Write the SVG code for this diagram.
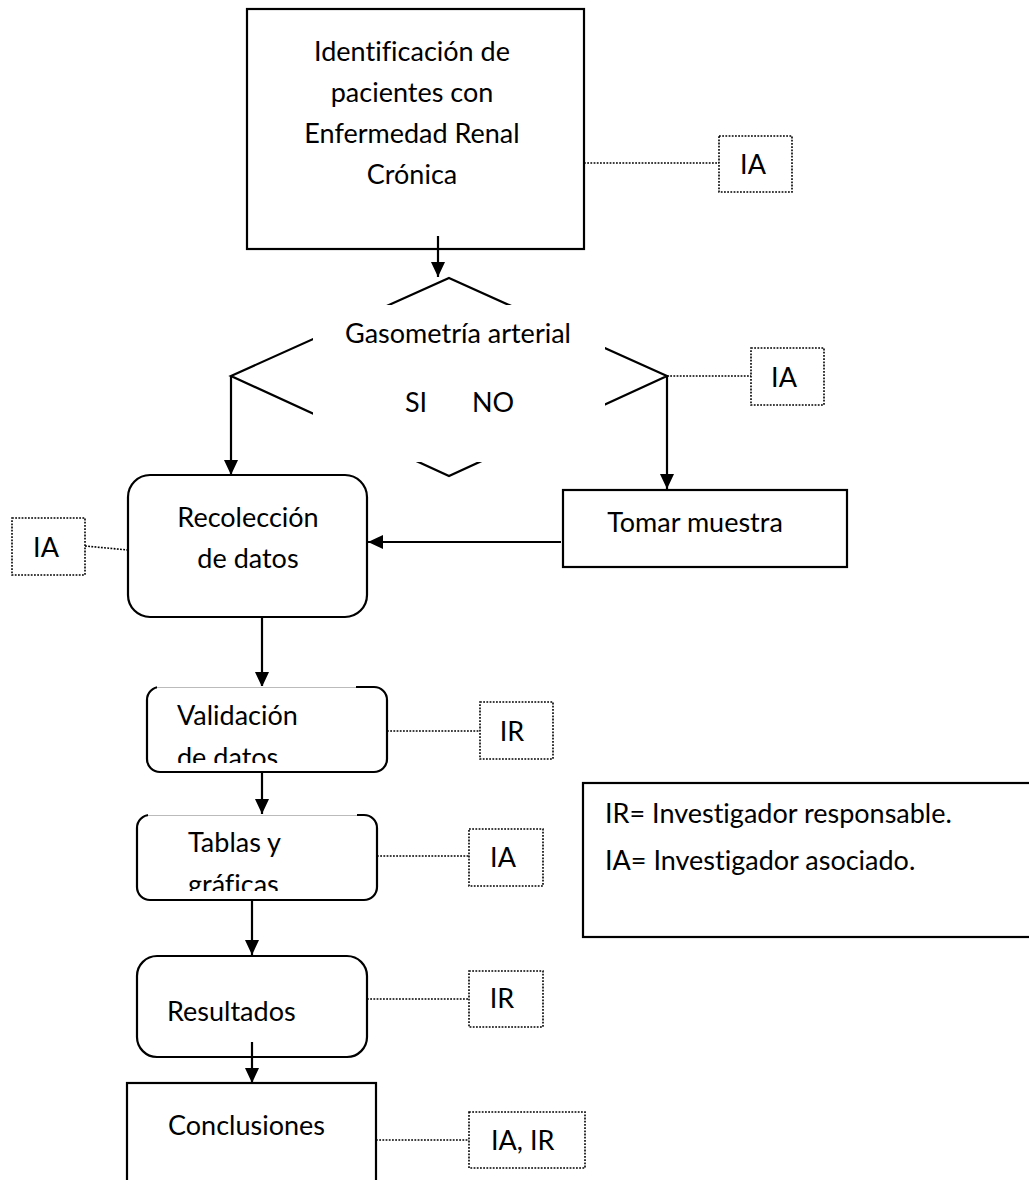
<svg xmlns="http://www.w3.org/2000/svg" width="1029" height="1180" viewBox="0 0 1029 1180">
<style>
  text { font-family: Lato, "Liberation Sans", sans-serif; font-size: 27px; fill: #000; font-variant-ligatures: none; }
  .box { fill: #fff; stroke: #000; stroke-width: 2.2; }
  .dot { fill: #fff; stroke: #000; stroke-width: 1.6; stroke-dasharray: 1.8 1.4; }
  .dl { fill: none; stroke: #000; stroke-width: 1.6; stroke-dasharray: 1.8 1.4; }
  .ln { fill: none; stroke: #000; stroke-width: 2.2; }
  .arr { fill: none; stroke: #000; stroke-width: 2.2; marker-end: url(#ah); }
  .mid { text-anchor: middle; }
</style>
<defs>
  <marker id="ah" viewBox="0 0 15 14" refX="15" refY="7" markerWidth="15" markerHeight="14" markerUnits="userSpaceOnUse" orient="auto">
    <path d="M0,0 L15,7 L0,14 Z" fill="#000"/>
  </marker>
  <clipPath id="cv"><rect x="157" y="688" width="199" height="75"/></clipPath>
  <clipPath id="ct"><rect x="148" y="816" width="209" height="75"/></clipPath>
</defs>
<rect width="1029" height="1180" fill="#fff"/>

<g id="connectors">
  <line class="arr" x1="438" y1="236" x2="438" y2="277"/>
  <line class="arr" x1="231" y1="376" x2="231" y2="475"/>
  <line class="arr" x1="667" y1="376" x2="667" y2="489"/>
  <line class="arr" x1="561" y1="542" x2="368" y2="542"/>
  <line class="arr" x1="262" y1="617" x2="262" y2="687"/>
  <line class="arr" x1="262" y1="772" x2="262" y2="814"/>
  <line class="arr" x1="252" y1="900" x2="252" y2="955"/>
  <line class="arr" x1="252" y1="1042" x2="252" y2="1083"/>
  <line class="dl" x1="584" y1="163" x2="719" y2="163"/>
  <line class="dl" x1="667" y1="376" x2="751" y2="376"/>
  <line class="dl" x1="85" y1="546" x2="128" y2="550"/>
  <line class="dl" x1="387" y1="731" x2="480" y2="731"/>
  <line class="dl" x1="377" y1="856" x2="469" y2="856"/>
  <line class="dl" x1="367" y1="999" x2="469" y2="999"/>
  <line class="dl" x1="376" y1="1140" x2="469" y2="1140"/>
</g>

<g id="identificacion">
  <rect class="box" x="247" y="9" width="337" height="240"/>
  <line class="ln" x1="438" y1="236" x2="438" y2="249"/>
  <text class="mid" x="412" y="61">Identificación de</text>
  <text class="mid" x="412" y="102">pacientes con</text>
  <text class="mid" x="412" y="143">Enfermedad Renal</text>
  <text class="mid" x="412" y="184">Crónica</text>
</g>
<g id="ia1">
  <rect class="dot" x="719" y="136" width="73" height="56"/>
  <text class="mid" x="753" y="174">IA</text>
</g>

<g id="gasometria">
  <polygon points="449,278 667,376 449,476 231,376" fill="#fff" stroke="#000" stroke-width="2.2"/>
  <rect x="313" y="305" width="292" height="157" fill="#fff"/>
  <text class="mid" x="458" y="343">Gasometría arterial</text>
  <text class="mid" x="416" y="412">SI</text>
  <text class="mid" x="493" y="412">NO</text>
</g>
<g id="ia2">
  <rect class="dot" x="751" y="348" width="73" height="57"/>
  <text class="mid" x="784" y="387">IA</text>
</g>

<g id="recoleccion">
  <rect class="box" x="128" y="475" width="239" height="142" rx="22" ry="22"/>
  <text class="mid" x="248" y="527">Recolección</text>
  <text class="mid" x="248" y="568">de datos</text>
</g>
<g id="ia3">
  <rect class="dot" x="12" y="518" width="73" height="57"/>
  <text class="mid" x="46" y="557">IA</text>
</g>

<g id="tomar">
  <rect class="box" x="563" y="490" width="284" height="77"/>
  <text class="mid" x="695" y="532">Tomar muestra</text>
</g>

<g id="validacion">
  <rect class="box" x="147" y="687" width="240" height="85" rx="13" ry="13"/>
  <rect x="157" y="686" width="199" height="77" fill="#fff"/>
  <line x1="157" y1="687.5" x2="356" y2="687.5" stroke="#bbb" stroke-width="1"/>
  <g clip-path="url(#cv)">
    <text x="177" y="725">Validación</text>
    <text x="177" y="767">de datos</text>
  </g>
</g>
<g id="ir1">
  <rect class="dot" x="480" y="702" width="73" height="57"/>
  <text class="mid" x="512" y="741">IR</text>
</g>

<g id="tablas">
  <rect class="box" x="137" y="815" width="240" height="85" rx="13" ry="13"/>
  <rect x="148" y="814" width="209" height="77" fill="#fff"/>
  <line x1="148" y1="815.5" x2="357" y2="815.5" stroke="#bbb" stroke-width="1"/>
  <g clip-path="url(#ct)">
    <text x="188" y="852">Tablas y</text>
    <text x="188" y="894">gráficas</text>
  </g>
</g>
<g id="ia4">
  <rect class="dot" x="469" y="829" width="74" height="57"/>
  <text class="mid" x="503" y="867">IA</text>
</g>

<g id="resultados">
  <rect class="box" x="137" y="956" width="230" height="101" rx="20" ry="20"/>
  <line class="ln" x1="252" y1="1042" x2="252" y2="1057"/>
  <text x="167" y="1021">Resultados</text>
</g>
<g id="ir2">
  <rect class="dot" x="469" y="971" width="74" height="56"/>
  <text class="mid" x="502" y="1008">IR</text>
</g>

<g id="conclusiones">
  <rect class="box" x="127" y="1083" width="249" height="120"/>
  <text x="168" y="1135">Conclusiones</text>
</g>
<g id="iair">
  <rect class="dot" x="469" y="1112" width="116" height="56"/>
  <text x="491" y="1150">IA, IR</text>
</g>

<g id="leyenda">
  <rect class="box" x="583" y="783" width="460" height="154"/>
  <text x="605" y="823">IR= Investigador responsable.</text>
  <text x="605" y="870">IA= Investigador asociado.</text>
</g>
</svg>
